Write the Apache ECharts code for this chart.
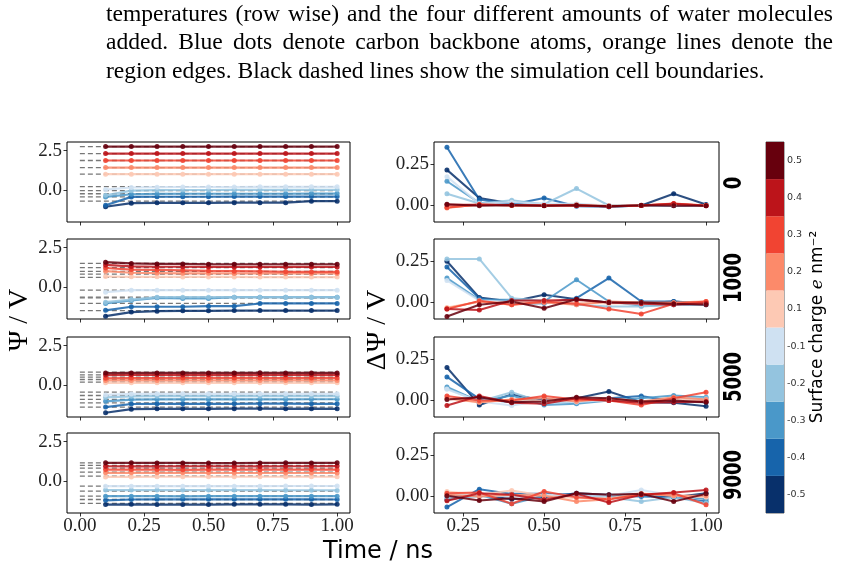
<!DOCTYPE html>
<html>
<head>
<meta charset="utf-8">
<script src="https://cdn.jsdelivr.net/npm/echarts@6/dist/echarts.min.js"></script>
<style>
  html, body { margin: 0; padding: 0; background: #fff; }
  #main { width: 841px; height: 574px; }
</style>
</head>
<body>
<div id="main"></div>
<script>
// surface charges (e nm^-2) and their colours, blue -> red
const charges = [-0.5, -0.4, -0.3, -0.2, -0.1, 0.1, 0.2, 0.3, 0.4, 0.5];
const chargeColors = ['#08306b', '#1764ab', '#4a98c9', '#94c4df', '#cfe1f2',
                      '#fdc9b4', '#fc8a6a', '#f14432', '#bc141a', '#67000d'];
const waterAmounts = ['0', '1000', '5000', '9000'];

const timesPsi = [0.1, 0.2, 0.3, 0.4, 0.5, 0.6, 0.7, 0.8, 0.9, 1.0];
const timesDelta = [0.2, 0.3, 0.4, 0.5, 0.6, 0.7, 0.8, 0.9, 1.0];
const refTimes = [0, 1];

// reference potential (dashed lines), one per charge, per water amount
const psiRef = [
  [-0.72, -0.45, -0.25, -0.05, 0.2, 1.0, 1.42, 1.87, 2.31, 2.76],
  [-1.51, -1.06, -0.7, -0.66, -0.21, 0.6, 0.81, 0.98, 1.22, 1.49],
  [-1.42, -1.15, -0.93, -0.68, -0.47, 0.17, 0.34, 0.49, 0.64, 0.81],
  [-1.44, -1.19, -0.98, -0.66, -0.34, 0.3, 0.55, 0.81, 0.98, 1.15]
];

// Psi / V over time
const psi0 = [
  [-1.08, -0.85, -0.83, -0.83, -0.83, -0.82, -0.82, -0.82, -0.72, -0.72],
  [-0.98, -0.45, -0.44, -0.44, -0.44, -0.43, -0.43, -0.43, -0.43, -0.43],
  [-0.45, -0.28, -0.26, -0.25, -0.25, -0.25, -0.25, -0.25, -0.24, -0.24],
  [-0.35, -0.05, -0.02, -0.01, -0.01, 0.0, 0.0, 0.0, 0.0, 0.0],
  [0.02, 0.15, 0.17, 0.18, 0.18, 0.18, 0.19, 0.19, 0.19, 0.19],
  [1.0, 1.0, 1.0, 1.0, 1.0, 1.0, 1.0, 1.0, 1.0, 1.0],
  [1.42, 1.42, 1.42, 1.42, 1.42, 1.42, 1.42, 1.42, 1.42, 1.42],
  [1.87, 1.87, 1.87, 1.87, 1.87, 1.87, 1.87, 1.87, 1.87, 1.87],
  [2.31, 2.31, 2.31, 2.31, 2.31, 2.31, 2.31, 2.31, 2.31, 2.31],
  [2.76, 2.76, 2.76, 2.76, 2.76, 2.76, 2.76, 2.76, 2.76, 2.76]
];
const psi1000 = [
  [-1.87, -1.61, -1.55, -1.53, -1.53, -1.51, -1.51, -1.51, -1.51, -1.51],
  [-1.5, -1.27, -1.27, -1.27, -1.23, -1.23, -1.06, -1.06, -1.06, -1.06],
  [-1.06, -0.87, -0.7, -0.74, -0.74, -0.66, -0.66, -0.66, -0.66, -0.66],
  [-0.98, -0.81, -0.66, -0.66, -0.66, -0.66, -0.66, -0.66, -0.66, -0.66],
  [-0.34, -0.21, -0.21, -0.21, -0.21, -0.21, -0.21, -0.21, -0.21, -0.21],
  [0.66, 0.64, 0.64, 0.63, 0.63, 0.63, 0.62, 0.62, 0.62, 0.62],
  [1.0, 0.9, 0.88, 0.86, 0.86, 0.85, 0.85, 0.85, 0.85, 0.85],
  [1.2, 1.1, 1.08, 1.05, 1.02, 1.0, 0.98, 0.96, 0.95, 0.95],
  [1.4, 1.3, 1.28, 1.28, 1.27, 1.27, 1.27, 1.27, 1.27, 1.27],
  [1.57, 1.49, 1.46, 1.46, 1.44, 1.44, 1.44, 1.44, 1.44, 1.44]
];
const psi5000 = [
  [-1.78, -1.55, -1.53, -1.53, -1.53, -1.52, -1.51, -1.53, -1.52, -1.53],
  [-1.42, -1.22, -1.21, -1.21, -1.21, -1.21, -1.2, -1.2, -1.21, -1.21],
  [-1.05, -0.94, -0.93, -0.93, -0.93, -0.93, -0.93, -0.93, -0.92, -0.92],
  [-0.8, -0.73, -0.72, -0.72, -0.72, -0.72, -0.72, -0.72, -0.72, -0.72],
  [-0.64, -0.58, -0.57, -0.57, -0.57, -0.57, -0.57, -0.57, -0.57, -0.57],
  [0.13, 0.13, 0.13, 0.13, 0.13, 0.13, 0.13, 0.13, 0.13, 0.13],
  [0.28, 0.28, 0.28, 0.28, 0.28, 0.28, 0.28, 0.28, 0.28, 0.28],
  [0.42, 0.43, 0.43, 0.44, 0.44, 0.44, 0.44, 0.43, 0.44, 0.44],
  [0.62, 0.64, 0.64, 0.63, 0.64, 0.64, 0.64, 0.64, 0.64, 0.64],
  [0.75, 0.76, 0.76, 0.76, 0.76, 0.76, 0.77, 0.76, 0.76, 0.76]
];
const psi9000 = [
  [-1.51, -1.5, -1.51, -1.51, -1.51, -1.5, -1.5, -1.5, -1.51, -1.5],
  [-1.24, -1.19, -1.18, -1.18, -1.18, -1.18, -1.18, -1.18, -1.18, -1.19],
  [-0.98, -0.98, -0.98, -0.99, -0.98, -0.98, -0.98, -0.98, -0.98, -0.98],
  [-0.59, -0.59, -0.59, -0.59, -0.59, -0.59, -0.59, -0.6, -0.6, -0.61],
  [-0.34, -0.34, -0.34, -0.34, -0.34, -0.34, -0.34, -0.33, -0.33, -0.33],
  [0.25, 0.25, 0.26, 0.26, 0.26, 0.26, 0.26, 0.26, 0.26, 0.26],
  [0.51, 0.51, 0.51, 0.51, 0.51, 0.5, 0.5, 0.5, 0.5, 0.5],
  [0.72, 0.72, 0.72, 0.7, 0.72, 0.72, 0.71, 0.71, 0.72, 0.71],
  [0.93, 0.92, 0.92, 0.93, 0.93, 0.93, 0.92, 0.93, 0.93, 0.94],
  [1.15, 1.15, 1.14, 1.14, 1.13, 1.13, 1.14, 1.15, 1.14, 1.15]
];
const psi = [psi0, psi1000, psi5000, psi9000];

// Delta Psi / V between successive frames
const delta0 = [
  [0.216, 0.046, 0.012, 0.0, 0.006, -0.008, 0.0, 0.071, 0.006],
  [0.353, 0.036, 0.006, 0.046, -0.004, -0.008, 0.0, 0.0, 0.0],
  [0.147, 0.016, 0.004, 0.0, 0.004, 0.0, 0.0, 0.0, 0.0],
  [0.071, 0.012, 0.032, 0.008, 0.103, 0.0, 0.0, 0.0, 0.0],
  [0.175, 0.01, 0.02, 0.01, 0.01, 0.0, 0.0, 0.005, 0.0],
  [-0.01, 0.005, 0.0, 0.0, 0.0, 0.0, 0.0, 0.005, 0.0],
  [-0.015, 0.008, 0.0, 0.0, 0.005, -0.005, 0.0, 0.01, 0.0],
  [-0.012, 0.005, 0.002, 0.0, 0.0, -0.006, 0.0, 0.012, 0.0],
  [0.005, 0.004, 0.003, 0.0, 0.0, -0.004, 0.0, 0.01, -0.002],
  [0.008, -0.002, 0.002, -0.002, 0.002, -0.004, 0.002, -0.002, -0.002]
];
const delta1000 = [
  [0.25, 0.03, 0.006, 0.047, 0.02, 0.0, -0.004, 0.006, -0.008],
  [0.215, 0.026, -0.008, -0.004, 0.026, 0.148, 0.006, 0.006, -0.004],
  [0.148, 0.016, 0.016, 0.006, 0.138, 0.006, -0.02, -0.014, -0.014],
  [0.264, 0.264, 0.026, 0.01, -0.014, -0.024, -0.024, -0.014, -0.014],
  [0.134, 0.012, 0.004, 0.002, 0.0, 0.0, -0.01, -0.006, -0.004],
  [-0.03, 0.004, 0.0, 0.004, 0.0, -0.006, -0.004, -0.004, -0.004],
  [-0.035, 0.006, -0.014, 0.0, -0.014, 0.006, 0.0, 0.0, 0.006],
  [-0.04, 0.01, -0.014, 0.006, -0.008, -0.04, -0.069, -0.008, 0.006],
  [-0.04, -0.045, 0.012, 0.012, 0.016, 0.0, -0.008, -0.014, -0.004],
  [-0.085, -0.014, 0.006, -0.035, 0.02, 0.0, 0.0, -0.008, -0.014]
];
const delta5000 = [
  [0.2, -0.027, 0.037, 0.0, 0.014, 0.055, -0.01, -0.014, -0.035],
  [0.143, 0.01, -0.01, 0.01, -0.014, 0.014, 0.027, -0.006, -0.01],
  [0.082, -0.006, 0.03, -0.027, -0.02, 0.0, 0.014, 0.03, 0.02],
  [0.072, -0.006, 0.05, -0.014, -0.006, 0.006, -0.014, 0.014, 0.014],
  [0.068, -0.006, -0.03, 0.0, -0.01, 0.004, -0.008, 0.01, 0.004],
  [0.01, -0.01, 0.004, -0.006, 0.004, 0.0, -0.01, 0.008, -0.004],
  [0.014, -0.01, 0.006, 0.014, -0.006, 0.014, -0.006, 0.02, 0.006],
  [0.027, 0.0, 0.0, 0.027, 0.006, 0.0, -0.027, 0.014, 0.05],
  [-0.03, 0.027, -0.014, -0.02, 0.014, 0.0, -0.014, -0.01, -0.006],
  [0.006, 0.02, -0.01, -0.006, 0.02, 0.014, -0.006, 0.0, -0.01]
];
const delta9000 = [
  [-0.02, 0.01, -0.016, -0.004, 0.02, 0.01, 0.01, -0.004, 0.02],
  [-0.064, 0.044, 0.016, 0.016, 0.01, 0.004, 0.0, -0.004, -0.03],
  [0.0, 0.01, -0.044, 0.004, 0.0, 0.004, 0.004, 0.01, -0.016],
  [-0.01, 0.0, 0.004, 0.01, 0.0, -0.004, -0.03, -0.004, -0.04],
  [0.016, 0.01, 0.0, 0.01, 0.006, 0.004, 0.04, 0.006, 0.0],
  [0.03, 0.01, 0.036, 0.004, -0.01, -0.01, 0.02, 0.004, -0.004],
  [0.01, 0.0, 0.01, 0.004, -0.03, -0.016, 0.016, 0.004, 0.004],
  [0.02, 0.024, -0.044, 0.03, -0.004, -0.016, 0.01, 0.02, -0.05],
  [-0.026, 0.02, 0.01, -0.02, 0.016, -0.036, 0.01, 0.024, 0.04],
  [0.004, -0.024, -0.01, -0.03, 0.02, 0.01, 0.016, -0.03, 0.016]
];
const delta = [delta0, delta1000, delta5000, delta9000];

const leftXTicks = [0, 0.25, 0.5, 0.75, 1.0];
const rightXTicks = [0.25, 0.5, 0.75, 1.0];
const leftYTicks = [0, 2.5];
const rightYTicks = [0, 0.25];

const captionLines = [
  'temperatures (row wise) and the four different amounts of water molecules',
  'added.  Blue dots denote carbon backbone atoms, orange lines denote the',
  'region edges. Black dashed lines show the simulation cell boundaries.'
];

// ---------------------------------------------------------------
const chart = echarts.init(document.getElementById('main'));
const serif = '"Liberation Serif", serif';
const sans = '"DejaVu Sans", sans-serif';
const rowTops = [142, 239, 337, 433];
const rowH = 80;

function mkAxis(gridIndex, min, max, ticks, digits, showLabels, isY) {
  return {
    gridIndex, type: 'value', min, max,
    splitLine: { show: false },
    axisLine: { show: false, onZero: false },
    axisTick: { show: true, length: 3.5, customValues: ticks,
                lineStyle: { color: '#000', width: 0.8 } },
    axisLabel: { show: showLabels, customValues: ticks,
                 formatter: v => v.toFixed(digits),
                 fontFamily: serif, fontSize: 19, color: '#222',
                 margin: isY ? 5 : 4 }
  };
}

const grids = [], xAxes = [], yAxes = [], series = [];
rowTops.forEach((top, r) => {
  grids.push({ left: 67, top, width: 283, height: rowH, show: true,
               borderColor: '#000', borderWidth: 1 });
  xAxes.push(mkAxis(r, -0.05, 1.05, leftXTicks, 2, r === 3, false));
  yAxes.push(mkAxis(r, -2.05, 3.05, leftYTicks, 1, true, true));
});
rowTops.forEach((top, r) => {
  grids.push({ left: 434, top, width: 285, height: rowH, show: true,
               borderColor: '#000', borderWidth: 1 });
  xAxes.push(mkAxis(4 + r, 0.16, 1.04, rightXTicks, 2, r === 3, false));
  yAxes.push(mkAxis(4 + r, -0.1, 0.385, rightYTicks, 2, true, true));
});

rowTops.forEach((top, r) => {
  charges.forEach((q, k) => {
    series.push({
      type: 'line', xAxisIndex: r, yAxisIndex: r, silent: true, z: 1,
      symbol: 'none',
      data: refTimes.map(t => [t, psiRef[r][k]]),
      lineStyle: { color: '#777', width: 1.3, type: [5, 3] }
    });
  });
  charges.forEach((q, k) => {
    series.push({
      type: 'line', xAxisIndex: r, yAxisIndex: r, silent: true, z: 2,
      symbol: 'circle', symbolSize: 5,
      data: timesPsi.map((t, i) => [t, psi[r][k][i]]),
      itemStyle: { color: chargeColors[k], opacity: 0.9 },
      lineStyle: { color: chargeColors[k], width: 2.2, opacity: 0.85 }
    });
    series.push({
      type: 'line', xAxisIndex: 4 + r, yAxisIndex: 4 + r, silent: true, z: 2,
      symbol: 'circle', symbolSize: 5,
      data: timesDelta.map((t, i) => [t, delta[r][k][i]]),
      itemStyle: { color: chargeColors[k], opacity: 0.9 },
      lineStyle: { color: chargeColors[k], width: 2, opacity: 0.85 }
    });
  });
});

// colour bar
grids.push({ left: 766, top: 142, width: 18, height: 371, show: true,
             borderColor: '#333', borderWidth: 0.8 });
xAxes.push({ gridIndex: 8, type: 'value', min: 0, max: 1, show: false });
yAxes.push({
  gridIndex: 8, type: 'category', position: 'right',
  data: charges.map(q => q.toFixed(1)),
  axisLine: { show: false },
  axisTick: { show: true, alignWithLabel: true, length: 3,
              lineStyle: { color: '#333', width: 0.8 } },
  axisLabel: { fontFamily: sans, fontSize: 9.5, color: '#333', margin: 3 }
});
series.push({
  type: 'bar', xAxisIndex: 8, yAxisIndex: 8, silent: true,
  barWidth: '100%', barCategoryGap: '0%',
  data: charges.map((q, k) => ({ value: 1, itemStyle: { color: chargeColors[k] } }))
});

// caption, justified like the LaTeX paragraph
const ctx = document.createElement('canvas').getContext('2d');
function textW(s, fs) { ctx.font = fs + 'px "Liberation Serif"'; return ctx.measureText(s).width; }
const capLeft = 106, capRight = 833, capLastEnd = 765;
const capFs = 20 * (capLastEnd - capLeft) / textW(captionLines[2], 20);
const capY = [14.5, 43, 71.5];
const graphics = [];
captionLines.forEach((line, li) => {
  const words = line.split(/\s+/);
  const widths = words.map(w => textW(w, capFs));
  const total = widths.reduce((a, b) => a + b, 0);
  const gap = li < 2 ? (capRight - capLeft - total) / (words.length - 1)
                     : textW(' ', capFs);
  let x = capLeft;
  words.forEach((w, i) => {
    graphics.push({ type: 'text', x, y: capY[li], silent: true,
      style: { text: w, fill: '#000', font: capFs.toFixed(2) + 'px "Liberation Serif"',
               textAlign: 'left', textVerticalAlign: 'middle' } });
    x += widths[i] + gap;
  });
});

function label(text, x, y, font, extra) {
  return Object.assign({ type: 'text', x, y, silent: true,
    style: { text, fill: '#000', font, textAlign: 'center', textVerticalAlign: 'middle' } },
    extra || {});
}
graphics.push(label('\u03A8 / V', 20, 320, '28px "Liberation Serif"', { rotation: Math.PI / 2 }));
graphics.push(label('\u0394\u03A8 / V', 378, 330, '28px "Liberation Serif"', { rotation: Math.PI / 2 }));
graphics.push(label('Time / ns', 378, 552, '24px "DejaVu Sans"'));
const rowLabelY = [183, 278, 377, 475];
waterAmounts.forEach((w, r) => {
  graphics.push(label(w, 734, rowLabelY[r], 'bold 25px "DejaVu Sans"',
    { rotation: Math.PI / 2, scaleX: 0.72 }));
});
graphics.push({
  type: 'text', x: 818, y: 327, rotation: Math.PI / 2, silent: true,
  style: {
    text: 'Surface charge {e|e} nm\u207B\u00B2',
    fill: '#000', font: '17px "DejaVu Sans"',
    textAlign: 'center', textVerticalAlign: 'middle',
    rich: { e: { fontFamily: 'DejaVu Serif', fontStyle: 'italic', fontSize: 17 } }
  }
});

chart.setOption({
  animation: false,
  backgroundColor: '#fff',
  grid: grids, xAxis: xAxes, yAxis: yAxes, series,
  graphic: graphics
});
</script>
</body>
</html>
